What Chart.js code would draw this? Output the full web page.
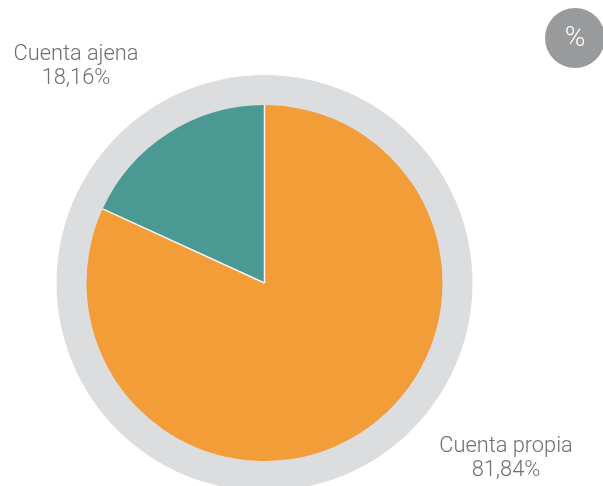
<!DOCTYPE html>
<html>
<head>
<meta charset="utf-8">
<script src="https://cdn.jsdelivr.net/npm/chart.js@4.4.0/dist/chart.umd.min.js"></script>
<style>
  html, body { margin: 0; padding: 0; background: #fff; }
  #wrap { width: 603px; height: 486px; position: relative; }
</style>
</head>
<body>
<div id="wrap"><canvas id="chart"></canvas></div>
<script>
const labels = ['Cuenta propia', 'Cuenta ajena'];
const values = [81.84, 18.16];
const valueLabels = ['81,84%', '18,16%'];
const colors = ['#f29d38', '#4a9a93'];

const textColor = '#6f6f6f';
const ringColor = '#dcdddf';

// gray halo behind the pie, plus the spokes and labels
const decor = {
  id: 'decor',
  beforeDatasetsDraw(chart) {
    const arc = chart.getDatasetMeta(0).data[0];
    const ctx = chart.ctx;
    ctx.save();
    ctx.fillStyle = ringColor;
    ctx.beginPath();
    ctx.arc(arc.x, arc.y, arc.outerRadius + 30, 0, Math.PI * 2);
    ctx.fill();
    ctx.restore();
  },
  afterDatasetsDraw(chart) {
    const ctx = chart.ctx;
    const arcs = chart.getDatasetMeta(0).data;
    ctx.save();
    ctx.strokeStyle = '#f4f4f4';
    ctx.lineWidth = 1.5;
    arcs.forEach(a => {
      ctx.beginPath();
      ctx.moveTo(a.x, a.y);
      ctx.lineTo(a.x + Math.cos(a.startAngle) * a.outerRadius, a.y + Math.sin(a.startAngle) * a.outerRadius);
      ctx.stroke();
    });

    ctx.font = '300 21.8px Roboto';
    ctx.fillStyle = textColor;
    ctx.textAlign = 'center';
    ctx.textBaseline = 'middle';
    ctx.fillText(labels[1], 76, 55);
    ctx.fillText(valueLabels[1], 76, 79);
    ctx.fillText(labels[0], 506, 447);
    ctx.fillText(valueLabels[0], 506, 471);

    // % badge
    ctx.fillStyle = '#999a9c';
    ctx.beginPath();
    ctx.arc(575, 38, 30, 0, Math.PI * 2);
    ctx.fill();
    ctx.fillStyle = '#fff';
    ctx.font = '300 28px Roboto';
    ctx.fillText('%', 575, 39);
    ctx.restore();
  }
};

new Chart(document.getElementById('chart'), {
  type: 'pie',
  data: {
    labels: labels,
    datasets: [{
      data: values,
      backgroundColor: colors,
      borderWidth: 0,
      hoverOffset: 0
    }]
  },
  options: {
    responsive: true,
    maintainAspectRatio: false,
    animation: false,
    layout: { padding: { left: 86.5, top: 105, right: 160.5, bottom: 25 } },
    plugins: {
      legend: { display: false },
      tooltip: { enabled: false }
    }
  },
  plugins: [decor]
});
</script>
</body>
</html>
